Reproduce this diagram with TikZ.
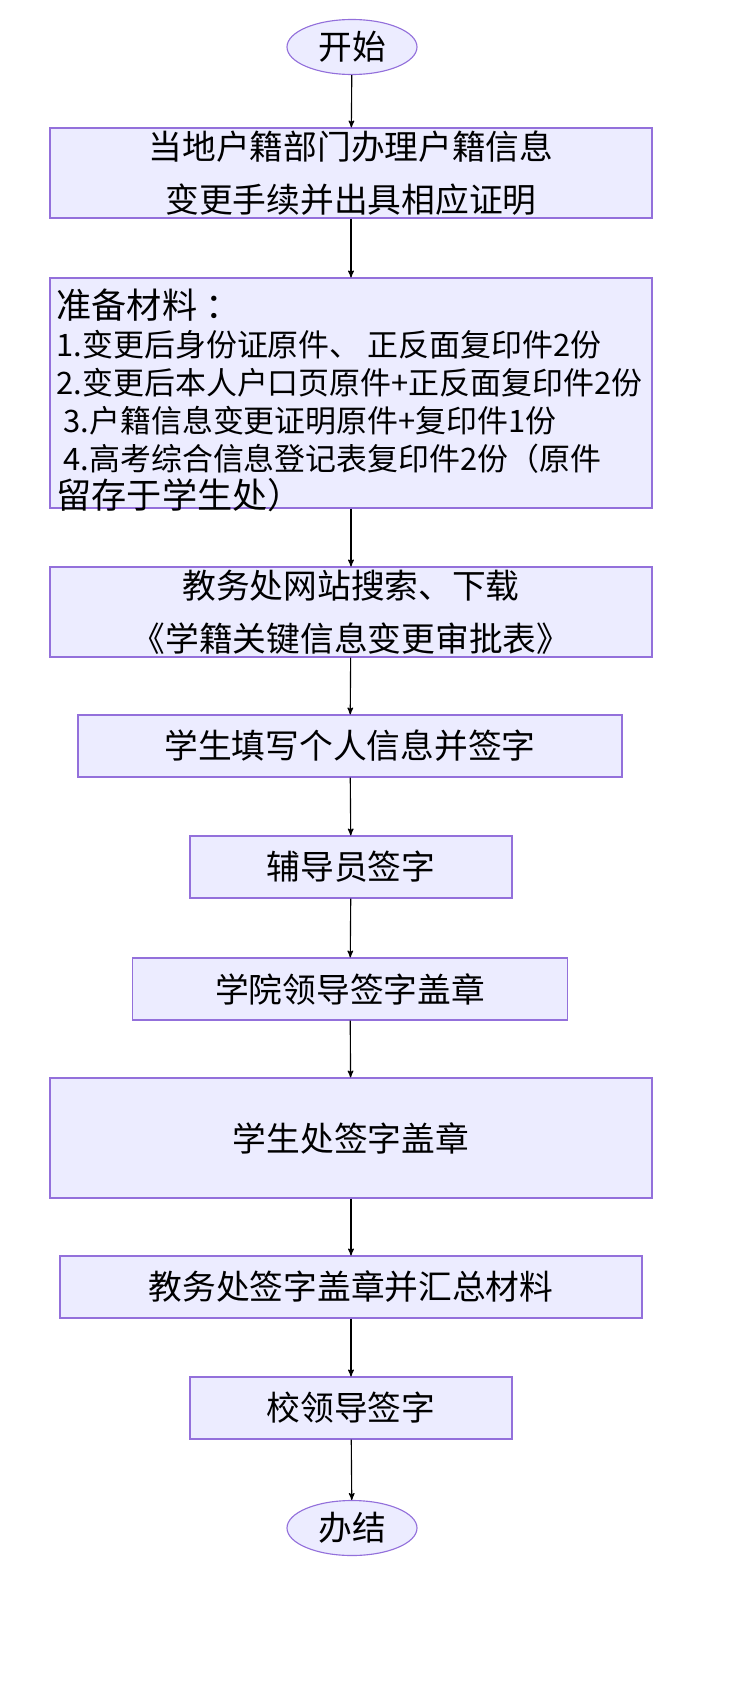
\documentclass[tikz,border=0pt]{standalone}
\usepackage{fontspec}
\newfontfamily\cjk{Noto Sans CJK SC}
\usetikzlibrary{arrows,shapes}
\definecolor{boxfill}{HTML}{ECECFF}
\definecolor{boxline}{HTML}{9370DB}

\begin{document}
\begin{tikzpicture}[x=0.025cm,y=-0.025cm,->,>=stealth',thick,
                    box/.style={draw=boxline,fill=boxfill,rectangle,inner sep=0pt,
                                align=center,font=\cjk\fontsize{24}{38}\selectfont},
                    term/.style={draw=boxline,fill=boxfill,ellipse,minimum width=130*0.025cm,
                                 minimum height=55*0.025cm,inner sep=0pt,
                                 font=\cjk\fontsize{24}{28}\selectfont}]
  \useasboundingbox (0,0) rectangle (755,1689);

  \node[term] (S) at (352,47) {开始};
  \node[box,minimum width=602*0.025cm,minimum height=90*0.025cm] (A) at (351,173)
       {当地户籍部门办理户籍信息\\变更手续并出具相应证明};
  \node[box,minimum width=602*0.025cm,minimum height=230*0.025cm] (B) at (351,393) {};
  \node[anchor=north west,align=left,inner sep=0pt,font=\cjk\fontsize{22}{27}\selectfont] (Bt) at (56,288)
       {{\fontsize{25}{30}\selectfont 准备材料 ：}\\
        1.变更后身份证原件、 正反面复印件2份\\
        2.变更后本人户口页原件+正反面复印件2份\\
        \ 3.户籍信息变更证明原件+复印件1份\\
        \ 4.高考综合信息登记表复印件2份（原件\\
        {\fontsize{25}{30}\selectfont 留存于学生处）}};
  \node[box,minimum width=602*0.025cm,minimum height=90*0.025cm] (C) at (351,612)
       {教务处网站搜索、下载\\《学籍关键信息变更审批表》};
  \node[box,minimum width=544*0.025cm,minimum height=62*0.025cm] (D) at (350,746) {学生填写个人信息并签字};
  \node[box,minimum width=322*0.025cm,minimum height=62*0.025cm] (E) at (351,867) {辅导员签字};
  \node[box,minimum width=435*0.025cm,minimum height=62*0.025cm] (F) at (350,989) {学院领导签字盖章};
  \node[box,minimum width=602*0.025cm,minimum height=120*0.025cm] (G) at (351,1138) {学生处签字盖章};
  \node[box,minimum width=582*0.025cm,minimum height=62*0.025cm] (H) at (351,1287) {教务处签字盖章并汇总材料};
  \node[box,minimum width=322*0.025cm,minimum height=62*0.025cm] (I) at (351,1408) {校领导签字};
  \node[term] (T) at (352,1528) {办结};

  \foreach \u/\v in {S/A,A/B,B/C,C/D,D/E,E/F,F/G,G/H,H/I,I/T}
    \draw (\u) -- (\v);
\end{tikzpicture}
\end{document}
